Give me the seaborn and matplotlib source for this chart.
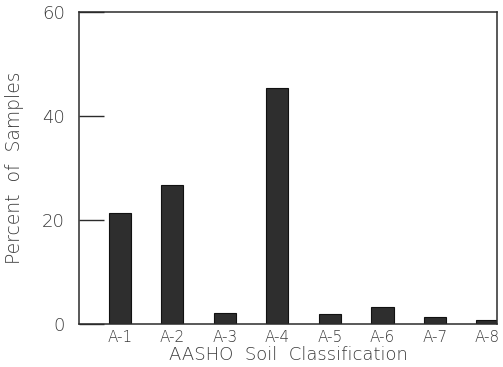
import matplotlib
matplotlib.use("Agg")
import matplotlib.pyplot as plt
import seaborn as sns
import pandas as pd

# Share of samples in each AASHO soil class
classes = ["A-1", "A-2", "A-3", "A-4", "A-5", "A-6", "A-7", "A-8"]
percent = [21.3, 26.7, 2.1, 45.4, 1.9, 3.3, 1.3, 0.7]
y_ticks = [0, 20, 40, 60]

df = pd.DataFrame({"cls": classes, "pct": percent})

sns.set_style("white")
plt.rcParams["font.family"] = ["DejaVu Sans"]
ink = "#2b2b2b"
text_col = "#3a3a3a"

fig = plt.figure(figsize=(5.03, 3.67), dpi=100)
ax = fig.add_axes([0.157, 0.117, 0.831, 0.850])

sns.barplot(data=df, x="cls", y="pct", color="#2e2e2e", width=0.42,
            edgecolor="#111111", linewidth=0.8, saturation=1, ax=ax)

ax.set_ylim(0, 60)
ax.set_xlim(-0.78, 7.18)
ax.set_yticks(y_ticks)
ax.set_yticklabels([str(v) for v in y_ticks], fontsize=13, color=text_col,
                   fontweight="light")
ax.tick_params(axis="y", left=True, direction="in", length=18, width=1.0,
               color=ink, pad=10)
ax.tick_params(axis="x", bottom=False, length=0, pad=4, labelsize=11,
               labelcolor=text_col)
for lab in ax.get_xticklabels():
    lab.set_fontweight("light")

for s in ax.spines.values():
    s.set_visible(True)
    s.set_color(ink)
    s.set_linewidth(1.1)

ax.set_xlabel("AASHO  Soil  Classification", fontsize=13, color=text_col,
              labelpad=1, fontweight="light")
ax.set_ylabel("Percent  of  Samples", fontsize=13.5, color=text_col,
              labelpad=13, fontweight="light")

fig.savefig("out.png", dpi=100)
